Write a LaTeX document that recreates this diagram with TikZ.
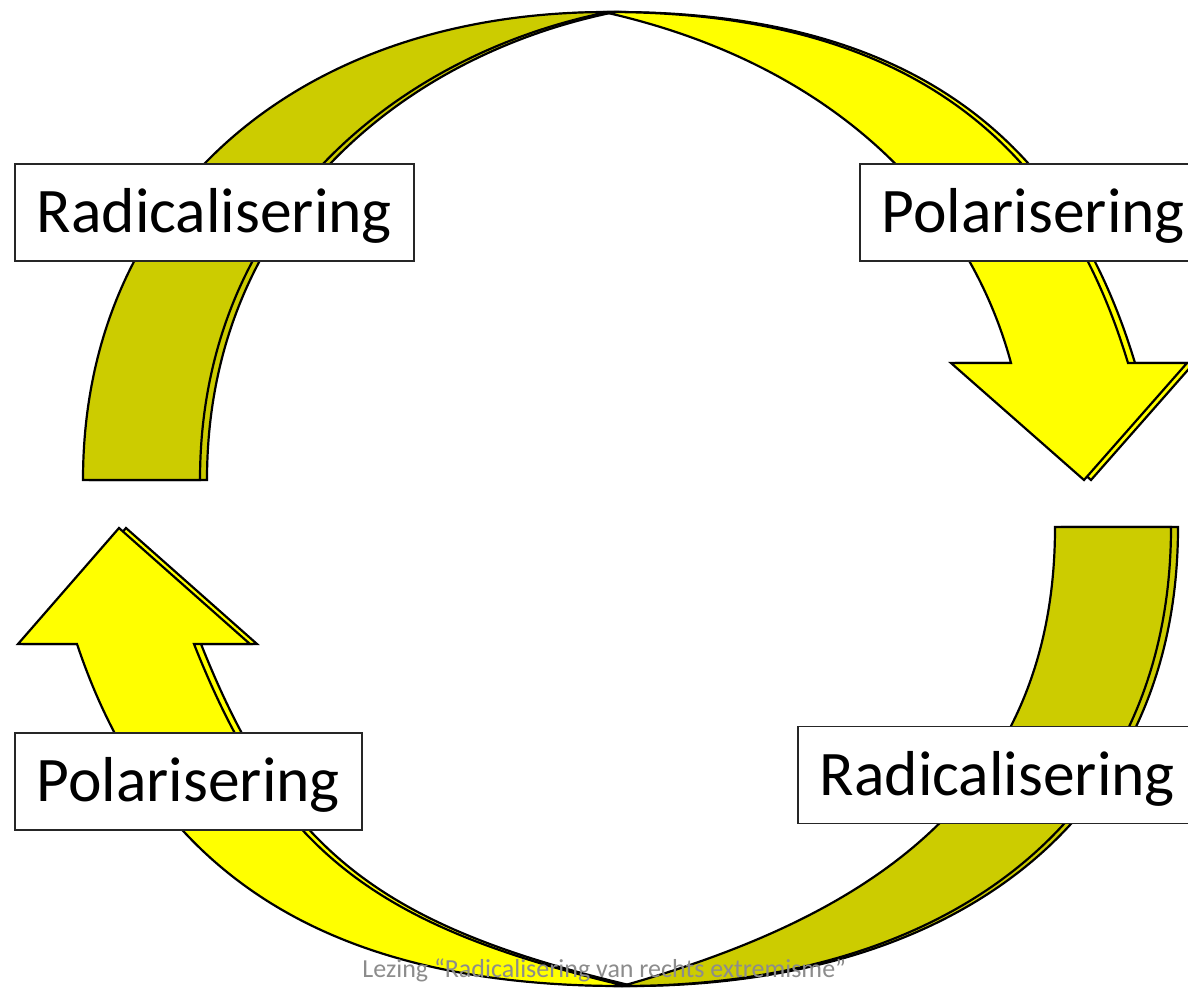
\documentclass[tikz,border=0pt]{standalone}
\usepackage{fontspec}
\setmainfont{Carlito}

\definecolor{olijf}{RGB}{204,204,0}
\definecolor{geel}{RGB}{255,255,0}

\tikzset{
  band/.style={draw=black, line width=1.1pt, line join=miter},
  achterkant/.style={band, fill=olijf},
  voorkant/.style={band, fill=geel},
  kader/.style={draw=black!85, line width=0.8pt, fill=white, anchor=west,
    inner xsep=11pt, minimum height=48.5pt, text height=23.8pt, text depth=3.4pt,
    font=\fontsize{31.75}{36}\selectfont},
}

\begin{document}
\begin{tikzpicture}[x=0.5pt, y=-0.5pt]
\useasboundingbox (0,0) rectangle (1188,987);
\clip (0,0) rectangle (1188,987);

% eerst de schaduw (7px naar rechts), dan de pijl zelf
\foreach \dx in {7,0} {
  \begin{scope}[shift={(\dx,0)}]
    % bovenste pijl
    \path[achterkant] (83,480) .. controls (83,200) and (295,12) .. (608,12)
      .. controls (395,55) and (200,215) .. (200,480) -- cycle;
    \path[voorkant] (608,12) .. controls (938,12) and (1070,171) .. (1128,363)
      -- (1187,363) -- (1084,480) -- (951,363) -- (1011,363)
      .. controls (967,200) and (831,64) .. (608,13) -- cycle;
    % onderste pijl
    \path[achterkant] (1055,527) -- (1171,527) .. controls (1171,817) and (952,986) .. (622,986)
      .. controls (852,921) and (1055,807) .. (1055,527) -- cycle;
    \path[voorkant] (622,986) .. controls (302,986) and (147,853) .. (77,644)
      -- (18,644) -- (119,528) -- (250,644) -- (194,644)
      .. controls (275,848) and (370,925) .. (622,985) -- cycle;
  \end{scope}
}

\node[kader] (radlinks) at (14,212.5) {Radicalisering};
\node[kader] (polrechts) at (859,212.5) {Polarisering};
\node[kader] (radrechts) at (797,775) {Radicalisering};
\node[kader] (pollinks) at (14,781.5) {Polarisering};

\node[anchor=base west, inner sep=0pt, text=black!45, font=\fontsize{13}{15}\selectfont] (voettekst)
  at (362,977) {Lezing “Radicalisering van rechts extremisme”};
\end{tikzpicture}
\end{document}
